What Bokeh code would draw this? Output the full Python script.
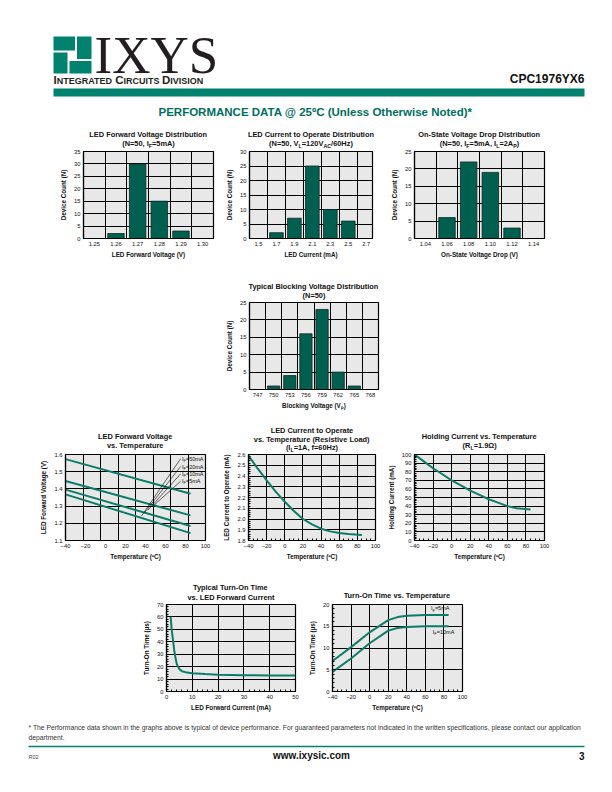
import numpy as np
from bokeh.plotting import figure
from bokeh.models import Range1d, FixedTicker, Label, Spacer, PrintfTickFormatter, ColumnDataSource
from bokeh.layouts import column, row
from bokeh.embed import file_html
from bokeh.resources import INLINE

# ======================= DATA =======================
# LED forward voltage distribution (N=50, IF=5mA)
vf_bins = [1.25, 1.26, 1.27, 1.28, 1.29, 1.30]
vf_counts = [0, 2, 30, 15, 3, 0]
# LED current to operate distribution
iop_bins = [1.5, 1.7, 1.9, 2.1, 2.3, 2.5, 2.7]
iop_counts = [0, 2, 7, 25, 10, 6, 0]
# On-state voltage drop distribution
von_bins = [1.04, 1.06, 1.08, 1.10, 1.12, 1.14]
von_counts = [0, 6, 22, 19, 3, 0]
# Blocking voltage distribution
vb_bins = [747, 750, 753, 756, 759, 762, 765, 768]
vb_counts = [0, 1, 4, 16, 23, 5, 1, 0]

# LED forward voltage vs temperature
vf_temp = [-40, 85]
vf_if50 = [1.573, 1.372]
vf_if20 = [1.446, 1.246]
vf_if10 = [1.396, 1.184]
vf_if5 = [1.368, 1.143]
vf_names = ["50mA", "20mA", "10mA", "5mA"]
vf_label_y = [1.575, 1.530, 1.487, 1.444]
vf_lead_x0 = [36.0, 39.0, 42.5, 46.5]
vf_lead_y0 = [1.242, 1.261, 1.277, 1.295]
vf_lead_x1 = 75.0
vf_label_x = 76.5

# LED current to operate vs temperature
iop_temp = [-40, -30, -20, -10, 0, 10, 20, 30, 40, 50, 60, 70, 85]
iop_ma = [2.59, 2.47, 2.36, 2.255, 2.16, 2.075, 2.0, 1.95, 1.91, 1.885, 1.87, 1.86, 1.852]

# Holding current vs temperature
ih_temp = [-40, -30, -20, -10, 0, 10, 20, 30, 40, 50, 60, 70, 85]
ih_ma = [100, 92, 84, 77, 70, 64, 58, 53, 48, 44, 40, 37.5, 36]

# Turn-on time vs LED forward current
ton_if = [1.6, 2.0, 2.6, 3.0, 3.5, 4.0, 5.0, 6.0, 8.0, 10, 15, 20, 30, 40, 50]
ton_us = [60, 50, 40, 33, 27, 22, 18, 16.3, 15.2, 14.7, 14.0, 13.5, 13.1, 12.9, 12.8]

# Turn-on time vs temperature
tt_temp = [-40, -20, 0, 20, 30, 40, 60, 85]
tt_if5 = [7.0, 10.2, 13.6, 16.4, 17.1, 17.4, 17.6, 17.6]
tt_if10 = [4.5, 7.6, 11.1, 14.0, 14.6, 14.8, 15.0, 15.0]
tt_label_x = [66, 68]
tt_label_y = [19.1, 13.6]
tt_names = ["5mA", "10mA"]

temp_ticks = [-40, -20, 0, 20, 40, 60, 80, 100]

# ======================= STYLE =======================
GRAY = "#E8E8E8"
BAR = "#005F4F"
BAR_EDGE = "#0F2A25"
LINE = "#0A7C6A"
TEAL = "#00826F"
TITLE_TEAL = "#006E5E"
INK = "#111111"
FONT = "Liberation Sans"
MID = 0.35  # box-centre height above the baseline, in em
PAGE_W = 604

HB = dict(zip(" !\"#$%&'()*+,-./", [278, 333, 474, 556, 556, 889, 722, 278, 333, 333, 389, 584, 278, 333, 278, 278]))
HB.update({d: 556 for d in "0123456789"})
HB.update(zip(":;<=>?@", [333, 333, 584, 584, 584, 611, 975]))
HB.update(zip("ABCDEFGHIJKLMNOPQRSTUVWXYZ", [722, 722, 722, 722, 667, 611, 778, 722, 278, 556, 722, 611, 833, 722, 778, 667, 778, 722, 667, 611, 722, 667, 944, 667, 667, 611]))
HB.update(zip("abcdefghijklmnopqrstuvwxyz", [556, 611, 556, 611, 556, 333, 611, 611, 278, 278, 556, 278, 889, 611, 611, 611, 611, 389, 556, 333, 611, 556, 778, 556, 556, 500]))
HB.update({"º": 365, "Ω": 770, "µ": 611})
HR = dict(zip(" !\"#$%&'()*+,-./", [278, 278, 355, 556, 556, 889, 667, 191, 333, 333, 389, 584, 278, 333, 278, 278]))
HR.update({d: 556 for d in "0123456789"})
HR.update(zip(":;<=>?@", [278, 278, 584, 584, 584, 556, 1015]))
HR.update(zip("ABCDEFGHIJKLMNOPQRSTUVWXYZ", [667, 667, 722, 722, 667, 611, 778, 722, 278, 500, 667, 556, 833, 722, 778, 667, 778, 722, 667, 611, 722, 667, 944, 667, 667, 611]))
HR.update(zip("abcdefghijklmnopqrstuvwxyz", [556, 556, 500, 556, 556, 278, 556, 556, 222, 222, 500, 222, 833, 556, 556, 556, 556, 333, 500, 278, 556, 500, 722, 500, 500, 500]))
HR.update({"º": 365, "Ω": 770, "µ": 556})


def tw(s, fs, bold=True):
    t = HB if bold else HR
    return sum(t.get(c, 556) for c in s) * fs / 1000.0


class Geo:
    def __init__(self, xr, yr, fw, fh):
        self.xr, self.yr, self.fw, self.fh = xr, yr, fw, fh

    def xd(self, px):
        return self.xr[0] + px * (self.xr[1] - self.xr[0]) / self.fw

    def yd(self, py):
        return self.yr[0] + py * (self.yr[1] - self.yr[0]) / self.fh

    def px(self, x):
        return (x - self.xr[0]) / (self.xr[1] - self.xr[0]) * self.fw

    def py(self, y):
        return (y - self.yr[0]) / (self.yr[1] - self.yr[0]) * self.fh


def lab(p, x, y, text, fs, bold=False, align="left", color=INK, font=FONT):
    p.add_layout(Label(x=x, y=y, x_units="data", y_units="data", text=text, text_font=font,
                       text_font_size="%.2fpx" % fs, text_font_style="bold" if bold else "normal",
                       text_align=align, text_baseline="middle", text_color=color))


def rich(p, g, segs, x_px, base_py, fs, bold=True, align="center", color=INK, font=FONT, sub=0.72):
    """segs: list of (text, is_subscript); px positions relative to the frame's bottom-left (y up)."""
    widths = [tw(t, fs * (sub if s else 1.0), bold) for t, s in segs]
    total = sum(widths)
    if align == "center":
        cur = x_px - total / 2.0
    elif align == "right":
        cur = x_px - total
    else:
        cur = x_px
    for (t, s), w in zip(segs, widths):
        size = fs * (sub if s else 1.0)
        yb = base_py - (0.2 * fs if s else 0.0)
        lab(p, g.xd(cur), g.yd(yb + MID * size), t, size, bold=bold, color=color, font=font)
        cur += w


def canvas(w, h):
    c = figure(width=w, height=h, x_range=Range1d(0, w), y_range=Range1d(0, h),
               output_backend="svg", toolbar_location=None, x_axis_type=None, y_axis_type=None,
               min_border=0)
    c.title.visible = False
    c.grid.visible = False
    c.outline_line_color = None
    c.background_fill_color = None
    c.border_fill_color = None
    return c, Geo((0, w), (0, h), w, h)


class Strip:
    """A full-width text strip covering page rows [top, top+h)."""
    def __init__(self, top, h):
        self.top, self.h = top, h
        self.p, self.g = canvas(PAGE_W, h)

    def title(self, cx, frame_top, lines, bases, fs=7.4):
        for segs, b in zip(lines, bases):
            if isinstance(segs, str):
                segs = [(segs, False)]
            base_page = frame_top - b
            rich(self.p, self.g, segs, cx, self.top + self.h - base_page, fs)


def make_chart(fig_w, left, fw, top_b, fh, bot_b, xr, yr, hist):
    p = figure(width=fig_w, height=top_b + fh + bot_b, x_range=Range1d(*xr), y_range=Range1d(*yr),
               output_backend="svg", toolbar_location=None,
               min_border_left=left, min_border_right=fig_w - left - fw,
               min_border_top=top_b, min_border_bottom=bot_b)
    p.title.visible = False
    p.background_fill_color = GRAY
    p.border_fill_color = "white"
    p.outline_line_color = "black"
    p.outline_line_width = 1.2
    for gr in (p.xgrid[0], p.ygrid[0]):
        gr.grid_line_color = "black"
        gr.grid_line_width = 1.0
    for ax in (p.xaxis[0], p.yaxis[0]):
        ax.axis_line_color = "black"
        ax.axis_line_width = 1.2
        ax.major_label_text_font = FONT
        ax.major_label_text_font_size = "5.8px"
        ax.major_label_text_color = INK
        ax.axis_label_text_font = FONT
        ax.axis_label_text_font_size = "6.3px"
        ax.axis_label_text_font_style = "bold"
        ax.axis_label_text_color = INK
        ax.major_label_standoff = 3
        ax.major_tick_out = 0
        if hist:
            ax.major_tick_in = 0
            ax.minor_tick_line_color = None
        else:
            ax.major_tick_in = 3
            ax.major_tick_line_color = "black"
            ax.minor_tick_in = 2
            ax.minor_tick_out = 0
            ax.minor_tick_line_color = "black"
    p.xaxis[0].axis_label_standoff = 2
    p.yaxis[0].axis_label_standoff = 4
    return p, Geo(xr, yr, fw, fh)


def hist_chart(bins, counts, step, xr, ymax, fmt, dims, xlabel):
    fig_w, left, fw, top_b, fh, bot_b = dims
    p, g = make_chart(fig_w, left, fw, top_b, fh, bot_b, xr, (0, ymax), True)
    edges = [(a + b) / 2.0 for a, b in zip(bins[:-1], bins[1:])]
    yt = list(range(0, ymax + 1, 5))
    p.xgrid[0].ticker = FixedTicker(ticks=edges)
    p.ygrid[0].ticker = FixedTicker(ticks=yt)
    p.xaxis[0].ticker = FixedTicker(ticks=bins)
    p.xaxis[0].formatter = PrintfTickFormatter(format=fmt)
    p.yaxis[0].ticker = FixedTicker(ticks=yt)
    nz = [(b, c) for b, c in zip(bins, counts) if c > 0]
    src = ColumnDataSource(dict(x=[b for b, _ in nz], top=[c for _, c in nz]))
    p.vbar(x="x", top="top", bottom=0, width=0.76 * step, source=src,
           fill_color=BAR, line_color=BAR_EDGE, line_width=0.8)
    p.xaxis[0].axis_label = xlabel
    p.yaxis[0].axis_label = "Device Count (N)"
    return p


# ---------------- Row 1 (page y 120..268) ----------------
s1 = Strip(120, 29)
f1 = hist_chart(vf_bins, vf_counts, 0.01, (1.245, 1.305), 35, "%.2f", (166, 30, 130, 2, 87, 30),
                "LED Forward Voltage (V)")
f2 = hist_chart(iop_bins, iop_counts, 0.2, (1.4, 2.77), 30, "%.1f", (165, 30, 123, 2, 87, 30),
                "LED Current (mA)")
f3 = hist_chart(von_bins, von_counts, 0.02, (1.03, 1.15), 25, "%.2f", (176, 30, 130, 2, 87, 30),
                "On-State Voltage Drop (V)")
s1.title(148, 151, ["LED Forward Voltage Distribution",
                    [("(N=50, I", False), ("F", True), ("=5mA)", False)]], [14.5, 5.5])
s1.title(310.5, 151, ["LED Current to Operate Distribution",
                      [("(N=50, V", False), ("L", True), ("=120V", False), ("AC", True), ("/60Hz)", False)]],
         [14.5, 5.5])
s1.title(479, 151, ["On-State Voltage Drop Distribution",
                    [("(N=50, I", False), ("F", True), ("=5mA, I", False), ("L", True), ("=2A", False),
                     ("P", True), (")", False)]], [14.5, 5.5])

# ---------------- Row 2 (page y 268..415) ----------------
s2 = Strip(268, 32)
f4 = hist_chart(vb_bins, vb_counts, 3, (745.5, 769.5), 25, "%d", (169, 30, 129, 2, 87, 26),
                "Blocking Voltage (V\u209a)")
s2.title(313.5, 302, ["Typical Blocking Voltage Distribution", "(N=50)"], [13.5, 4.5])

# ---------------- Row 3 (page y 415..565) ----------------
s3 = Strip(415, 37)
x5 = (-40, 100)
f5, g5 = make_chart(183, 30, 140, 2, 86, 25, x5, (1.1, 1.6), False)
f5.xaxis[0].ticker = FixedTicker(ticks=temp_ticks)
f5.xaxis[0].major_tick_in = 0
f5.yaxis[0].major_tick_in = 0
f5.xaxis[0].minor_tick_line_color = None
f5.yaxis[0].minor_tick_line_color = None
y5 = [1.1, 1.2, 1.3, 1.4, 1.5, 1.6]
f5.yaxis[0].ticker = FixedTicker(ticks=y5)
f5.yaxis[0].formatter = PrintfTickFormatter(format="%.1f")
f5.ygrid[0].ticker = FixedTicker(ticks=y5)
f5.xgrid[0].ticker = FixedTicker(ticks=list(np.linspace(x5[0], x5[1], 9)[1:-1]))
for ys in (vf_if50, vf_if20, vf_if10, vf_if5):
    f5.line(vf_temp, ys, line_color=LINE, line_width=2)
f5.segment(x0=vf_lead_x0, y0=vf_lead_y0, x1=[vf_lead_x1] * 4, y1=vf_label_y, line_color="black", line_width=0.6)
for nm, yl in zip(vf_names, vf_label_y):
    rich(f5, g5, [("I", False), ("F", True), ("=" + nm, False)], g5.px(vf_label_x), g5.py(yl) - MID * 5.5, 5.5,
         bold=False, align="left")
f5.xaxis[0].axis_label = "Temperature (ºC)"
f5.yaxis[0].axis_label = "LED Forward Voltage (V)"
s3.title(135, 454, ["LED Forward Voltage", "vs. Temperature"], [15, 6])

f6, g6 = make_chart(166, 30, 127, 2, 86, 25, (-40, 100), (1.8, 2.6), False)
y6 = [1.8, 1.9, 2.0, 2.1, 2.2, 2.3, 2.4, 2.5, 2.6]
f6.xaxis[0].ticker = FixedTicker(ticks=temp_ticks, minor_ticks=list(range(-40, 101, 5)))
f6.yaxis[0].ticker = FixedTicker(ticks=y6, minor_ticks=list(np.arange(1.8, 2.601, 0.02)))
f6.yaxis[0].formatter = PrintfTickFormatter(format="%.1f")
f6.xgrid[0].ticker = FixedTicker(ticks=temp_ticks)
f6.ygrid[0].ticker = FixedTicker(ticks=y6)
f6.line(iop_temp, iop_ma, line_color=LINE, line_width=2)
f6.xaxis[0].axis_label = "Temperature (ºC)"
f6.yaxis[0].axis_label = "LED Current to Operate (mA)"
s3.title(311.5, 454, ["LED Current to Operate", "vs. Temperature (Resistive Load)",
                      [("(I", False), ("L", True), ("=1A, f=60Hz)", False)]], [21.5, 12.5, 4])

f7, g7 = make_chart(176, 30, 130, 2, 86, 25, (-40, 100), (0, 100), False)
y7 = list(range(0, 101, 10))
f7.xaxis[0].ticker = FixedTicker(ticks=temp_ticks, minor_ticks=list(range(-40, 101, 5)))
f7.yaxis[0].ticker = FixedTicker(ticks=y7, minor_ticks=list(range(0, 101, 2)))
f7.xgrid[0].ticker = FixedTicker(ticks=temp_ticks)
f7.ygrid[0].ticker = FixedTicker(ticks=y7)
f7.line(ih_temp, ih_ma, line_color=LINE, line_width=2)
f7.xaxis[0].axis_label = "Temperature (ºC)"
f7.yaxis[0].axis_label = "Holding Current (mA)"
s3.title(479, 454, ["Holding Current vs. Temperature",
                    [("(R", False), ("L", True), ("=1.9Ω)", False)]], [15.5, 6])

# ---------------- Row 4 (page y 565..715) ----------------
s4 = Strip(565, 37)
f8, g8 = make_chart(166, 30, 129, 2, 87, 24, (0, 50), (0, 70), False)
x8 = [0, 10, 20, 30, 40, 50]
y8 = [0, 10, 20, 30, 40, 50, 60, 70]
f8.xaxis[0].ticker = FixedTicker(ticks=x8, minor_ticks=list(range(0, 51, 2)))
f8.yaxis[0].ticker = FixedTicker(ticks=y8, minor_ticks=list(range(0, 71, 2)))
f8.xgrid[0].ticker = FixedTicker(ticks=x8)
f8.ygrid[0].ticker = FixedTicker(ticks=y8)
f8.line(ton_if, ton_us, line_color=LINE, line_width=2)
f8.xaxis[0].axis_label = "LED Forward Current (mA)"
f8.yaxis[0].axis_label = "Turn-On Time (µs)"
s4.title(230.5, 604, ["Typical Turn-On Time", "vs. LED Forward Current"], [14, 4.5])

f9, g9 = make_chart(175, 30, 130, 2, 87, 24, (-40, 100), (0, 20), False)
y9 = [0, 5, 10, 15, 20]
f9.xaxis[0].ticker = FixedTicker(ticks=temp_ticks, minor_ticks=list(range(-40, 101, 5)))
f9.yaxis[0].ticker = FixedTicker(ticks=y9, minor_ticks=list(range(0, 21, 1)))
f9.xgrid[0].ticker = FixedTicker(ticks=temp_ticks)
f9.ygrid[0].ticker = FixedTicker(ticks=y9)
f9.line(tt_temp, tt_if5, line_color=LINE, line_width=2)
f9.line(tt_temp, tt_if10, line_color=LINE, line_width=2)
for nm, xl, yl in zip(tt_names, tt_label_x, tt_label_y):
    rich(f9, g9, [("I", False), ("F", True), ("=" + nm, False)], g9.px(xl), g9.py(yl) - MID * 5.5, 5.5,
         bold=False, align="left")
f9.xaxis[0].axis_label = "Temperature (ºC)"
f9.yaxis[0].axis_label = "Turn-On Time (µs)"
s4.title(397, 604, ["Turn-On Time vs. Temperature"], [6.5])

# ---------------- Header (page coordinates) ----------------
HH = 120
hdr, gh = canvas(PAGE_W, HH)


def T(y, h=HH):
    return h - y


lg_l = [53, 76.5, 69, 53]
lg_r = [74.5, 91, 91, 67]
lg_t = [36, 36, 60.5, 52]
lg_b = [50, 58.5, 73, 73]
hdr.quad(left=lg_l, right=lg_r, top=[T(v) for v in lg_t], bottom=[T(v) for v in lg_b],
         fill_color=TEAL, line_color=None)
lab(hdr, 94, T(73 - 0.34 * 53), "IXYS", 53, font="Liberation Serif", color="#231F20")
icd = [("I", 11.5), ("NTEGRATED ", 9.0), ("C", 11.5), ("IRCUITS ", 9.0), ("D", 11.5), ("IVISION", 9.0)]
cx = 53.0
for t, s in icd:
    lab(hdr, cx, T(83.3 - MID * s), t, s, bold=True, color="#231F20")
    cx += tw(t, s)
lab(hdr, 584, T(83 - MID * 12), "CPC1976YX6", 12, bold=True, align="right")
hdr.quad(left=[53], right=[584], top=[T(88)], bottom=[T(96)], fill_color=TEAL, line_color=None)
lab(hdr, 315, T(111.5), "PERFORMANCE DATA @ 25ºC (Unless Otherwise Noted)*", 11.5, bold=True,
    align="center", color=TITLE_TEAL)

# ---------------- Footer (page y 715..792) ----------------
FH = 77
ftr, gf = canvas(PAGE_W, FH)


def TF(y):
    return FH - (y - 715)


note1 = ("* The Performance data shown in the graphs above is typical of device performance.  For guaranteed "
         "parameters not indicated in the written specifications, please contact our application")
note_fs = 554.0 / tw(note1, 1.0, bold=False)
lab(ftr, 28, TF(727), note1, note_fs, color="#333333")
lab(ftr, 28, TF(737), "department.", note_fs, color="#333333")
ftr.quad(left=[28], right=[584], top=[TF(745.3)], bottom=[TF(746.8)], fill_color=TEAL, line_color=None)
lab(ftr, 28, TF(756), "R02", 5.5, color="#444444")
lab(ftr, 311, TF(755), "www.ixysic.com", 10, bold=True, align="center")
lab(ftr, 584, TF(755), "3", 10, bold=True, align="right")

layout = column(
    hdr,
    s1.p,
    row(Spacer(width=53, height=119), f1, f2, f3),
    s2.p,
    row(Spacer(width=219, height=115), f4),
    s3.p,
    row(Spacer(width=35, height=113), f5, f6, f7),
    s4.p,
    row(Spacer(width=136, height=113), f8, f9),
    ftr,
)

open("out.html", "w").write(file_html(layout, INLINE))
